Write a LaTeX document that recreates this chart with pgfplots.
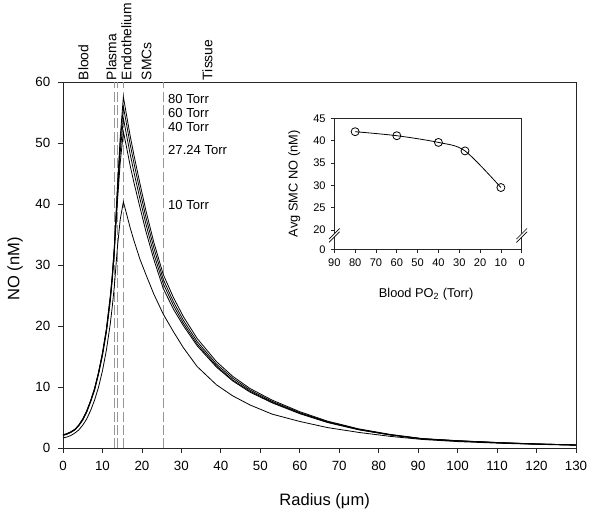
\documentclass[border=0pt]{standalone}
\usepackage{pgfplots}
\pgfplotsset{compat=1.18}
\usepackage{fontspec}
\setmainfont{Liberation Sans}
\definecolor{dashgray}{RGB}{150,150,150}
\tikzset{curve/.style={black, line width=0.6pt, mark=none}}
\begin{document}
\begin{tikzpicture}
\useasboundingbox (-47.25pt,-49.275pt) rectangle (402.75pt,336.225pt);
\begin{axis}[
  at={(0pt,0pt)}, anchor=south west, scale only axis,
  width=384.75pt, height=274.5pt,
  xmin=0, xmax=130, ymin=0, ymax=60,
  xtick={0,10,...,130}, ytick={0,10,...,60},
  axis line style={line width=0.6pt, black!85},
  tick align=outside, tick pos=left, major tick length=3.5pt,
  every tick/.style={black!85, line width=0.6pt},
  tick label style={font=\fontsize{10}{12}\selectfont},
  xticklabel style={yshift=-3pt},
  yticklabel style={xshift=-2.5pt},
  /pgf/number format/assume math mode=true,
  xlabel={Radius (μm)}, ylabel={NO (nM)},
  label style={font=\fontsize{12.4}{14}\selectfont},
  xlabel style={at={(axis description cs:0.51,0)}, anchor=center, yshift=-39.75pt},
  ylabel style={at={(axis description cs:0,0.49)}, anchor=center, yshift=36pt},
  clip=false,
]
% layer boundaries
\addplot[dashgray, line width=0.9pt, dash pattern=on 7.5pt off 2.5pt] coordinates {(13.0,0) (13.0,60)};
\addplot[dashgray, line width=0.9pt, dash pattern=on 7.5pt off 2.5pt] coordinates {(13.8,0) (13.8,60)};
\addplot[dashgray, line width=0.9pt, dash pattern=on 7.5pt off 2.5pt] coordinates {(15.3,0) (15.3,60)};
\addplot[dashgray, line width=0.9pt, dash pattern=on 7.5pt off 2.5pt] coordinates {(25.4,0) (25.4,60)};
% 80 Torr
\addplot[curve] coordinates {
(0,2.2)(1,2.4)(2,2.7)(3,3.1)(4,3.8)(5,4.8)(6,6.1)(7,7.8)(8,9.8)(9,12.4)(10,15.6)(11,19.6)(12,25.0)(12.5,28.5)(13,33.0)(13.8,43.0)(14.5,51.0)(15.3,57.6)
(16,55.0)(17,51.3)(18,48.0)(19.5,43.4)(21,39.0)(23,33.8)(25.4,28.5)(28,24.7)(30.5,21.6)(34,18.0)(38.9,14.2)(43,11.8)(47.4,9.8)(53,7.9)(60,6.0)(67,4.46)(75,3.18)(83,2.27)(91,1.6)(100,1.25)(111,0.92)(120,0.72)(130,0.55)};
% 60 Torr
\addplot[curve] coordinates {
(0,2.2)(1,2.4)(2,2.7)(3,3.1)(4,3.8)(5,4.8)(6,6.1)(7,7.8)(8,9.8)(9,12.4)(10,15.6)(11,19.5)(12,24.9)(12.5,28.4)(13,32.8)(13.8,42.3)(14.5,50.0)(15.3,56.0)
(16,53.5)(17,49.9)(18,46.7)(19.5,42.2)(21,37.9)(23,32.9)(25.4,27.7)(28,24.0)(30.5,21.0)(34,17.5)(38.9,13.8)(43,11.5)(47.4,9.55)(53,7.7)(60,5.85)(67,4.35)(75,3.1)(83,2.22)(91,1.57)(100,1.23)(111,0.91)(120,0.71)(130,0.55)};
% 40 Torr
\addplot[curve] coordinates {
(0,2.15)(1,2.35)(2,2.65)(3,3.05)(4,3.75)(5,4.7)(6,6.0)(7,7.7)(8,9.7)(9,12.3)(10,15.4)(11,19.3)(12,24.6)(12.5,28.1)(13,32.5)(13.8,41.5)(14.5,48.5)(15.3,54.1)
(16,51.7)(17,48.3)(18,45.2)(19.5,40.9)(21,36.8)(23,31.9)(25.4,27.0)(28,23.4)(30.5,20.5)(34,17.1)(38.9,13.5)(43,11.2)(47.4,9.35)(53,7.55)(60,5.76)(67,4.3)(75,3.07)(83,2.2)(91,1.55)(100,1.22)(111,0.9)(120,0.7)(130,0.54)};
% 27.24 Torr
\addplot[curve] coordinates {
(0,2.1)(1,2.3)(2,2.6)(3,3.0)(4,3.7)(5,4.6)(6,5.9)(7,7.6)(8,9.5)(9,12.1)(10,15.2)(11,19.0)(12,24.2)(12.5,27.6)(13,32.0)(13.8,40.5)(14.5,46.8)(15.3,51.9)
(16,49.7)(17,46.4)(18,43.5)(19.5,39.5)(21,35.6)(23,31.0)(25.4,26.2)(28,22.8)(30.5,20.1)(34,16.8)(38.9,13.3)(43,11.05)(47.4,9.2)(53,7.45)(60,5.67)(67,4.23)(75,3.02)(83,2.17)(91,1.54)(100,1.2)(111,0.89)(120,0.7)(130,0.54)};
% 10 Torr
\addplot[curve] coordinates {
(0,1.7)(1,1.85)(2,2.1)(3,2.5)(4,3.0)(5,3.8)(6,4.8)(7,6.2)(8,7.9)(9,10.0)(10,12.7)(11,16.1)(12,20.5)(12.5,23.3)(13,26.5)(13.8,33.0)(14.5,37.5)(15.3,40.4)
(16,38.7)(17,36.2)(18,34.0)(19.5,31.0)(21,28.5)(23,25.3)(25.4,22.0)(28,19.1)(30.5,16.5)(34,13.4)(38.9,10.4)(43,8.6)(47.4,7.1)(53,5.6)(60,4.4)(67,3.4)(75,2.6)(83,1.95)(91,1.45)(100,1.1)(111,0.82)(120,0.65)(130,0.5)};
% region labels above the axis
\begin{scope}[every node/.style={rotate=90, anchor=west, inner sep=1.5pt, font=\fontsize{10.4}{12}\selectfont}]
\node at (axis cs:5.15,60) {Blood};
\node at (axis cs:12.3,60) {Plasma};
\node at (axis cs:16.1,60) {Endothelium};
\node at (axis cs:21.2,60) {SMCs};
\node at (axis cs:36.6,60) {Tissue};
\end{scope}
% PO2 labels
\begin{scope}[every node/.style={anchor=west, inner sep=0pt, font=\fontsize{9.8}{12}\selectfont}]
\node at (axis cs:26.6,57.2) {80 Torr};
\node at (axis cs:26.6,55.0) {60 Torr};
\node at (axis cs:26.6,52.7) {40 Torr};
\node at (axis cs:26.6,48.9) {27.24 Torr};
\node at (axis cs:26.6,39.9) {10 Torr};
\end{scope}
\end{axis}
% inset
\begin{axis}[
  at={(203.5pt,149.25pt)}, anchor=south west, scale only axis,
  width=140.55pt, height=98.25pt,
  xmin=0, xmax=90, x dir=reverse, ymin=15.67, ymax=45,
  xtick={0,10,...,90},
  ytick={15.67,20,25,30,35,40,45}, yticklabels={0,20,25,30,35,40,45},
  axis line style={line width=0.6pt, black!85},
  tick align=outside, tick pos=left, major tick length=2.5pt,
  every tick/.style={black!85, line width=0.6pt},
  tick label style={font=\fontsize{8.3}{10}\selectfont},
  xticklabel style={yshift=-1pt},
  yticklabel style={xshift=-0.5pt},
  /pgf/number format/assume math mode=true,
  xlabel={Blood PO\textsubscript{2} (Torr)}, ylabel={Avg SMC NO (nM)},
  label style={font=\fontsize{9.6}{11}\selectfont},
  xlabel style={at={(axis description cs:0.49,0)}, anchor=center, yshift=-33.5pt},
  ylabel style={at={(axis description cs:0,0.5)}, anchor=center, yshift=30pt},
  clip=false,
]
\addplot[black, line width=0.6pt, smooth, tension=0.5, mark=o, mark size=3pt, mark options={fill=white, line width=0.6pt}]
  coordinates {(80,42.0)(60,41.1)(40,39.6)(27.24,37.7)(10,29.5)};
\coordinate (bkL) at (axis cs:90,18.7);
\coordinate (bkR) at (axis cs:0,18.7);
\end{axis}
\foreach \c in {bkL,bkR} {
  \fill[white] ([shift={(-4pt,-5pt)}]\c) -- ([shift={(4pt,3pt)}]\c) -- ([shift={(4pt,5.5pt)}]\c) -- ([shift={(-4pt,-2.5pt)}]\c) -- cycle;
  \draw[line width=0.5pt] ([shift={(-4pt,-5pt)}]\c) -- ([shift={(4pt,3pt)}]\c);
  \draw[line width=0.5pt] ([shift={(-4pt,-2.5pt)}]\c) -- ([shift={(4pt,5.5pt)}]\c);
}
\end{tikzpicture}
\end{document}
